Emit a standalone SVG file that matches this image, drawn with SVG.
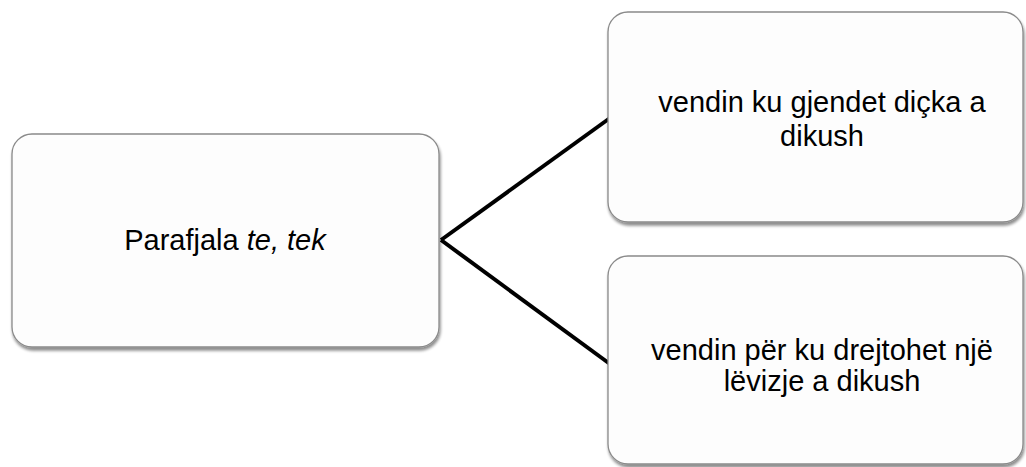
<svg xmlns="http://www.w3.org/2000/svg" width="1026" height="467" viewBox="0 0 1026 467">
  <style>
    .box { fill: #fdfdfd; stroke: #8a8a8a; stroke-width: 1.3; filter: url(#shadow); }
    .label { font-family: "Liberation Sans", Arial, sans-serif; font-size: 29px; fill: #000; text-anchor: middle; }
    .conn { stroke: #000; stroke-width: 4; fill: none; stroke-linecap: butt; }
  </style>
  <defs>
    <filter id="shadow" x="-10%" y="-10%" width="120%" height="130%">
      <feGaussianBlur in="SourceAlpha" stdDeviation="1.8"/>
      <feOffset dx="1" dy="3" result="b"/>
      <feComponentTransfer><feFuncA type="linear" slope="0.45"/></feComponentTransfer>
      <feMerge><feMergeNode/><feMergeNode in="SourceGraphic"/></feMerge>
    </filter>
  </defs>
  <rect width="1026" height="467" fill="#ffffff"/>

  <g id="connectors">
    <path class="conn" d="M441 240 L610 118"/>
    <path class="conn" d="M441 240 L610 364"/>
  </g>

  <g id="node-parafjala">
    <rect class="box" x="12" y="134" width="427" height="213" rx="20"/>
    <text class="label" x="225" y="250">Parafjala <tspan font-style="italic">te, tek</tspan></text>
  </g>

  <g id="node-vendin-ku">
    <rect class="box" x="608" y="12" width="415" height="210" rx="20"/>
    <text class="label" x="822" y="112">vendin ku gjendet diçka a</text>
    <text class="label" x="822" y="146">dikush</text>
  </g>

  <g id="node-vendin-per">
    <rect class="box" x="608" y="256" width="415" height="208" rx="20"/>
    <text class="label" x="822" y="360">vendin për ku drejtohet një</text>
    <text class="label" x="822" y="391">lëvizje a dikush</text>
  </g>
</svg>
